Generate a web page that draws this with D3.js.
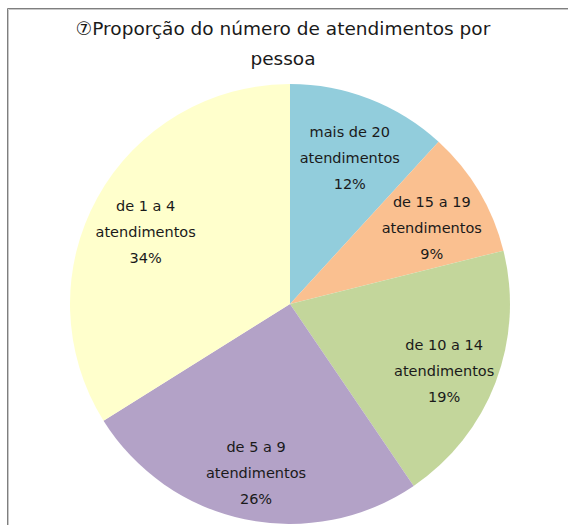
<!DOCTYPE html>
<html>
<head>
<meta charset="utf-8">
<script src="https://cdn.jsdelivr.net/npm/d3@7"></script>
<style>
  body { margin: 0; background: #fff; }
  svg { display: block; }
  text { font-family: "DejaVu Sans", Verdana, sans-serif; fill: #1a1a1a; }
</style>
</head>
<body>
<div id="chart"></div>
<script>
(function(){
var width = 568,
	height = 525,
	cx = 290,
	cy = 304,
	radius = 220,
	label_r = 165,
	label_dy = 13,
	line_h = 26;

// data, clockwise from 12 o'clock
var categories = ["mais de 20 atendimentos", "de 15 a 19 atendimentos", "de 10 a 14 atendimentos", "de 5 a 9 atendimentos", "de 1 a 4 atendimentos"];
var labelLine1 = ["mais de 20", "de 15 a 19", "de 10 a 14", "de 5 a 9", "de 1 a 4"];
var values = [11.8, 9.3, 19.4, 25.6, 33.9];
var percentLabels = ["12%", "9%", "19%", "26%", "34%"];
var colors = ["#92cddc", "#fac090", "#c3d69b", "#b3a2c7", "#ffffcc"];
var titleLines = ["⑦Proporção do número de atendimentos por", "pessoa"];

var svg = d3.select("#chart").append("svg")
	.attr("width", width)
	.attr("height", height);

svg.append("rect").attr("width", width).attr("height", height).attr("fill", "#fff");

// frame (only top and left edges are visible in the crop)
svg.append("path").attr("d", "M7.5," + height + "V8.5H" + width)
	.attr("fill", "none").attr("stroke", "#7f7f7f").attr("stroke-width", 1);
svg.append("path").attr("d", "M8.5," + height + "V9.5H" + width)
	.attr("fill", "none").attr("stroke", "#c8c8c8").attr("stroke-width", 1);

svg.selectAll(".title").data(titleLines).enter().append("text")
	.attr("class", "title")
	.attr("x", 283)
	.attr("y", function(d, i){ return 35 + i * 30; })
	.attr("text-anchor", "middle")
	.style("font-size", "18.5px")
	.text(function(d){ return d; });

var pie = d3.pie().sort(null).value(function(d){ return d; });
var arc = d3.arc().innerRadius(0).outerRadius(radius);
var labelArc = d3.arc().innerRadius(label_r).outerRadius(label_r);

var arcs = pie(values);

var g = svg.append("g").attr("transform", "translate(" + cx + "," + cy + ")");

g.selectAll(".slice").data(arcs).enter().append("path")
	.attr("class", "slice")
	.attr("d", arc)
	.attr("fill", function(d, i){ return colors[i]; });

var labels = g.selectAll(".label").data(arcs).enter().append("text")
	.attr("class", "label")
	.attr("text-anchor", "middle")
	.style("font-size", "14.5px")
	.attr("transform", function(d){
		var c = labelArc.centroid(d);
		return "translate(" + c[0] + "," + (c[1] + label_dy) + ")";
	});

labels.each(function(d, i){
	var t = d3.select(this);
	[labelLine1[i], "atendimentos", percentLabels[i]].forEach(function(s, k){
		t.append("tspan").attr("x", 0).attr("y", (k - 1) * line_h).text(s);
	});
});
})()
</script>
</body>
</html>
